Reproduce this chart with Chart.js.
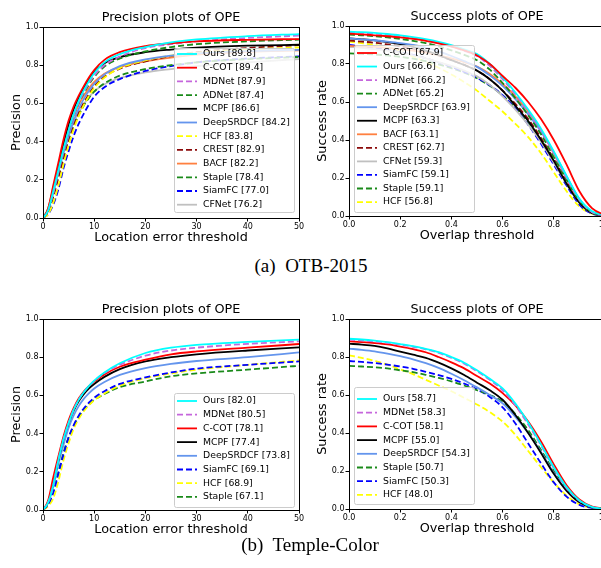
<!DOCTYPE html>
<html>
<head>
<meta charset="utf-8">
<script src="https://cdn.jsdelivr.net/npm/chart.js@4.4.1/dist/chart.umd.min.js"></script>
<style>
  html, body { margin: 0; padding: 0; background: #fff; width: 601px; height: 568px; overflow: hidden; }
  canvas { position: absolute; }
  .cap { position: absolute; font-family: "Liberation Serif", serif; font-size: 19px; color: #000; white-space: pre; transform: translateX(-50%); }
</style>
</head>
<body>
<canvas id="otbPrec" width="342" height="250" style="left:0;top:0"></canvas>
<canvas id="otbSucc" width="354" height="250" style="left:300px;top:0"></canvas>
<canvas id="tcPrec" width="342" height="250" style="left:0;top:292px"></canvas>
<canvas id="tcSucc" width="354" height="250" style="left:300px;top:292px"></canvas>
<div class="cap" style="left:311px;top:255px">(a)  OTB-2015</div>
<div class="cap" style="left:310px;top:534px">(b)  Temple-Color</div>
<script>
// thresholds
const precX = [0, 1, 2, 3, 4, 5, 6, 7, 8, 9, 10, 12, 15, 20, 25, 30, 40, 50];
const succX = [0, 0.05, 0.1, 0.15, 0.2, 0.25, 0.3, 0.35, 0.4, 0.45, 0.5, 0.55, 0.6, 0.65, 0.7, 0.75, 0.8, 0.85, 0.9, 0.95, 1];

// OTB-2015 precision
const otbPrecNames  = ['Ours', 'C-COT', 'MDNet', 'ADNet', 'MCPF', 'DeepSRDCF', 'HCF', 'CREST', 'BACF', 'Staple', 'SiamFC', 'CFNet'];
const otbPrecScores = ['89.8', '89.4', '87.9', '87.4', '86.6', '84.2', '83.8', '82.9', '82.2', '78.4', '77.0', '76.2'];
const otbPrecOurs      = [0, .04, .14, .25, .36, .46, .545, .615, .67, .718, .758, .815, .858, .895, .92, .935, .952, .963];
const otbPrecCCOT      = [0, .05, .17, .29, .41, .51, .585, .642, .692, .737, .775, .828, .868, .90, .915, .925, .933, .937];
const otbPrecMDNet     = [0, .04, .13, .24, .35, .45, .535, .605, .66, .707, .745, .80, .845, .89, .91, .925, .943, .955];
const otbPrecADNet     = [0, .04, .13, .24, .35, .45, .535, .603, .655, .70, .738, .793, .835, .872, .895, .91, .925, .934];
const otbPrecMCPF      = [0, .04, .15, .27, .39, .49, .57, .632, .682, .727, .765, .81, .842, .868, .882, .892, .902, .907];
const otbPrecDeepSRDCF = [0, .04, .13, .24, .34, .43, .51, .573, .625, .667, .702, .752, .795, .83, .85, .862, .874, .88];
const otbPrecHCF       = [0, .02, .08, .17, .28, .38, .465, .535, .592, .64, .68, .735, .785, .825, .85, .865, .882, .893];
const otbPrecCREST     = [0, .03, .11, .21, .31, .41, .49, .553, .605, .65, .69, .74, .782, .82, .848, .868, .89, .905];
const otbPrecBACF      = [0, .05, .16, .27, .37, .46, .535, .595, .642, .68, .712, .755, .79, .82, .84, .855, .87, .878];
const otbPrecStaple    = [0, .04, .12, .22, .32, .41, .48, .54, .59, .63, .662, .705, .745, .78, .80, .815, .832, .843];
const otbPrecSiamFC    = [0, .02, .07, .15, .26, .35, .43, .495, .548, .595, .635, .685, .727, .77, .795, .815, .835, .846];
const otbPrecCFNet     = [0, .05, .15, .26, .35, .43, .50, .553, .597, .633, .663, .70, .733, .762, .78, .795, .815, .832];

// OTB-2015 success
const otbSuccNames  = ['C-COT', 'Ours', 'MDNet', 'ADNet', 'DeepSRDCF', 'MCPF', 'BACF', 'CREST', 'CFNet', 'SiamFC', 'Staple', 'HCF'];
const otbSuccScores = ['67.9', '66.6', '66.2', '65.2', '63.9', '63.3', '63.1', '62.7', '59.3', '59.1', '59.1', '56.8'];
const otbSuccCCOT      = [.96, .956, .951, .946, .94, .932, .922, .908, .892, .872, .845, .80, .737, .675, .60, .51, .40, .27, .13, .04, .005];
const otbSuccOurs      = [.97, .968, .964, .958, .951, .942, .931, .917, .899, .877, .852, .80, .73, .65, .56, .46, .34, .21, .09, .025, .003];
const otbSuccMDNet     = [.967, .964, .96, .954, .947, .938, .927, .912, .893, .869, .842, .79, .72, .64, .55, .45, .33, .20, .085, .02, .003];
const otbSuccADNet     = [.955, .951, .946, .94, .932, .922, .91, .893, .872, .848, .82, .77, .70, .62, .53, .43, .31, .19, .08, .02, .003];
const otbSuccDeepSRDCF = [.935, .93, .925, .918, .91, .90, .886, .866, .842, .815, .785, .74, .685, .615, .535, .445, .335, .21, .09, .02, .003];
const otbSuccMCPF      = [.935, .93, .924, .915, .904, .89, .87, .846, .82, .795, .765, .72, .66, .58, .50, .40, .29, .17, .07, .015, .002];
const otbSuccBACF      = [.895, .893, .89, .885, .878, .87, .86, .845, .83, .81, .787, .748, .695, .63, .55, .45, .33, .20, .08, .02, .003];
const otbSuccCREST     = [.923, .918, .912, .903, .893, .88, .865, .845, .82, .795, .765, .72, .66, .59, .51, .41, .30, .18, .075, .018, .003];
const otbSuccCFNet     = [.89, .885, .878, .87, .86, .845, .83, .81, .79, .765, .735, .69, .63, .56, .48, .39, .28, .17, .07, .015, .002];
const otbSuccSiamFC    = [.90, .893, .885, .874, .862, .848, .83, .808, .785, .758, .728, .688, .635, .565, .48, .38, .27, .16, .06, .012, .002];
const otbSuccStaple    = [.856, .853, .85, .845, .838, .828, .815, .798, .778, .755, .725, .685, .635, .57, .49, .40, .29, .17, .07, .015, .002];
const otbSuccHCF       = [.918, .91, .90, .885, .865, .84, .81, .78, .745, .705, .66, .605, .55, .485, .415, .33, .23, .13, .05, .012, .002];

// Temple-Color precision
const tcPrecNames  = ['Ours', 'MDNet', 'C-COT', 'MCPF', 'DeepSRDCF', 'SiamFC', 'HCF', 'Staple'];
const tcPrecScores = ['82.0', '80.5', '78.1', '77.4', '73.8', '69.1', '68.9', '67.1'];
const tcPrecOurs      = [0, .04, .13, .26, .37, .455, .525, .578, .618, .65, .677, .72, .768, .822, .85, .865, .88, .892];
const tcPrecMDNet     = [0, .04, .13, .26, .37, .455, .525, .578, .618, .65, .676, .717, .76, .808, .835, .85, .87, .883];
const tcPrecCCOT      = [0, .05, .17, .28, .385, .47, .535, .585, .622, .65, .673, .71, .75, .787, .815, .83, .85, .869];
const tcPrecMCPF      = [0, .04, .14, .26, .37, .455, .52, .57, .608, .637, .66, .697, .738, .778, .80, .815, .835, .851];
const tcPrecDeepSRDCF = [0, .04, .12, .24, .34, .43, .495, .545, .583, .612, .636, .67, .707, .743, .765, .78, .80, .825];
const tcPrecSiamFC    = [0, .03, .09, .19, .29, .38, .445, .495, .533, .563, .588, .622, .66, .694, .72, .74, .76, .778];
const tcPrecHCF       = [0, .02, .06, .15, .26, .35, .425, .478, .518, .55, .575, .61, .652, .69, .715, .735, .76, .783];
const tcPrecStaple    = [0, .03, .10, .20, .30, .38, .44, .488, .525, .553, .576, .607, .643, .673, .70, .715, .735, .755];

// Temple-Color success
const tcSuccNames  = ['Ours', 'MDNet', 'C-COT', 'MCPF', 'DeepSRDCF', 'Staple', 'SiamFC', 'HCF'];
const tcSuccScores = ['58.7', '58.3', '58.1', '55.0', '54.3', '50.7', '50.3', '48.0'];
const tcSuccOurs      = [.896, .892, .886, .878, .868, .857, .843, .826, .80, .77, .73, .685, .635, .555, .455, .34, .22, .115, .045, .01, .002];
const tcSuccMDNet     = [.891, .887, .882, .875, .865, .854, .84, .822, .795, .765, .725, .68, .625, .545, .445, .335, .215, .11, .043, .01, .002];
const tcSuccCCOT      = [.882, .878, .873, .866, .855, .842, .825, .80, .772, .74, .70, .66, .61, .545, .46, .355, .235, .125, .05, .012, .002];
const tcSuccMCPF      = [.87, .865, .858, .845, .828, .812, .795, .77, .74, .705, .665, .625, .575, .495, .40, .295, .185, .095, .035, .008, .002];
const tcSuccDeepSRDCF = [.844, .838, .83, .818, .804, .788, .768, .743, .712, .678, .64, .60, .556, .485, .40, .30, .19, .10, .037, .008, .002];
const tcSuccStaple    = [.753, .75, .746, .74, .73, .72, .706, .69, .672, .65, .625, .60, .565, .50, .415, .31, .20, .105, .04, .009, .002];
const tcSuccSiamFC    = [.779, .774, .768, .76, .75, .738, .722, .705, .685, .66, .63, .59, .535, .45, .345, .24, .14, .065, .022, .005, .001];
const tcSuccHCF       = [.809, .795, .78, .76, .735, .71, .68, .65, .62, .585, .55, .51, .46, .39, .305, .22, .14, .07, .025, .006, .001];

const trackerStyle = {
  'Ours':      { color: '#00ffff', dash: [] },
  'C-COT':     { color: '#ff0000', dash: [] },
  'MDNet':     { color: '#c566dc', dash: [6, 3] },
  'ADNet':     { color: '#1a8a1a', dash: [6, 3] },
  'MCPF':      { color: '#000000', dash: [] },
  'DeepSRDCF': { color: '#6495ed', dash: [] },
  'HCF':       { color: '#ffff00', dash: [6, 3] },
  'CREST':     { color: '#8b0a0a', dash: [6, 3] },
  'BACF':      { color: '#ff8040', dash: [] },
  'Staple':    { color: '#1a8a1a', dash: [6, 3] },
  'SiamFC':    { color: '#0000ff', dash: [6, 3] },
  'CFNet':     { color: '#c0c0c0', dash: [] }
};

const FONT = 'DejaVu Sans';

// spines, title over the plot box, matplotlib-like legend
const frameLegend = {
  id: 'frameLegend',
  afterDatasetsDraw(chart, args, opts) {
    const { ctx, chartArea: a } = chart;
    ctx.save();
    ctx.strokeStyle = '#000';
    ctx.lineWidth = 1;
    ctx.strokeRect(Math.round(a.left) + 0.5, Math.round(a.top) + 0.5, Math.round(a.right - a.left), Math.round(a.bottom - a.top));

    ctx.fillStyle = '#000';
    ctx.font = `12.8px "${FONT}"`;
    ctx.textAlign = 'center';
    ctx.textBaseline = 'middle';
    ctx.fillText(opts.title, (a.left + a.right) / 2, a.top - 9.5);

    const b = opts.box;
    ctx.fillStyle = 'rgba(255,255,255,0.8)';
    ctx.strokeStyle = '#cccccc';
    ctx.beginPath();
    ctx.roundRect(b.x + 0.5, b.y + 0.5, b.w, b.h, 2);
    ctx.fill();
    ctx.stroke();
    ctx.font = `9.3px "${FONT}"`;
    ctx.textAlign = 'left';
    chart.data.datasets.forEach((ds, i) => {
      const y = b.first + i * b.step;
      ctx.strokeStyle = ds.borderColor;
      ctx.lineWidth = ds.borderWidth;
      ctx.setLineDash(ds.borderDash);
      ctx.beginPath();
      ctx.moveTo(b.x + 3, y);
      ctx.lineTo(b.x + 23, y);
      ctx.stroke();
      ctx.setLineDash([]);
      ctx.fillStyle = '#000';
      ctx.fillText(ds.label, b.x + 29, y);
    });
    ctx.restore();
  }
};

function makeChart(id, o) {
  const datasets = o.names.map((name, i) => ({
    label: `${name} [${o.scores[i]}]`,
    data: o.xs.map((x, j) => ({ x, y: o.values[i][j] })),
    borderColor: trackerStyle[name].color,
    borderDash: trackerStyle[name].dash,
    borderWidth: 1.8,
    pointRadius: 0,
    fill: false,
    cubicInterpolationMode: 'monotone'
  }));
  const tickFont = { family: FONT, size: 8 };
  const labelFont = { family: FONT, size: 12.8 };
  const grid = { display: true, drawOnChartArea: false, drawTicks: true, tickLength: 3.5, color: '#000', lineWidth: 1 };
  return new Chart(document.getElementById(id), {
    type: 'line',
    data: { datasets },
    plugins: [frameLegend],
    options: {
      responsive: false,
      devicePixelRatio: 1,
      animation: false,
      layout: { padding: { left: 0, top: o.m.top, right: o.m.right, bottom: 0 } },
      plugins: {
        legend: { display: false },
        tooltip: { enabled: false },
        title: { display: false },
        frameLegend: { box: o.legend, title: o.title }
      },
      scales: {
        x: {
          type: 'linear', min: 0, max: o.xMax,
          grid, border: { display: false },
          ticks: { stepSize: o.xStep, color: '#000', font: tickFont, padding: 1, maxRotation: 0, autoSkip: false,
                   callback: v => o.xMax === 1 ? v.toFixed(1) : String(v) },
          title: { display: true, text: o.xTitle, color: '#000', font: labelFont, padding: { top: 0, bottom: o.m.xTitle } },
          afterFit: s => { s.height = o.m.bottom; }
        },
        y: {
          min: 0, max: 1,
          grid, border: { display: false },
          ticks: { stepSize: 0.2, color: '#000', font: tickFont, padding: 1, callback: v => v.toFixed(1) },
          title: { display: true, text: o.yTitle, color: '#000', font: labelFont, padding: { top: o.m.yTitle, bottom: 0 } },
          afterFit: s => { s.width = o.m.left; }
        }
      }
    }
  });
}

makeChart('otbPrec', {
  title: 'Precision plots of OPE', xTitle: 'Location error threshold', yTitle: 'Precision',
  xs: precX, xMax: 50, xStep: 10,
  names: otbPrecNames, scores: otbPrecScores,
  values: [otbPrecOurs, otbPrecCCOT, otbPrecMDNet, otbPrecADNet, otbPrecMCPF, otbPrecDeepSRDCF,
           otbPrecHCF, otbPrecCREST, otbPrecBACF, otbPrecStaple, otbPrecSiamFC, otbPrecCFNet],
  m: { left: 43, right: 43, top: 27, bottom: 32, xTitle: 4.3, yTitle: 9.3 },
  legend: { x: 174, y: 48, w: 120, h: 164, first: 54, step: 13.7 }
});

makeChart('otbSucc', {
  title: 'Success plots of OPE', xTitle: 'Overlap threshold', yTitle: 'Success rate',
  xs: succX, xMax: 1, xStep: 0.2,
  names: otbSuccNames, scores: otbSuccScores,
  values: [otbSuccCCOT, otbSuccOurs, otbSuccMDNet, otbSuccADNet, otbSuccDeepSRDCF, otbSuccMCPF,
           otbSuccBACF, otbSuccCREST, otbSuccCFNet, otbSuccSiamFC, otbSuccStaple, otbSuccHCF],
  m: { left: 49, right: 49, top: 26, bottom: 34, xTitle: 6.3, yTitle: 15.3 },
  legend: { x: 54, y: 45, w: 120, h: 167, first: 53, step: 13.55 }
});

makeChart('tcPrec', {
  title: 'Precision plots of OPE', xTitle: 'Location error threshold', yTitle: 'Precision',
  xs: precX, xMax: 50, xStep: 10,
  names: tcPrecNames, scores: tcPrecScores,
  values: [tcPrecOurs, tcPrecMDNet, tcPrecCCOT, tcPrecMCPF, tcPrecDeepSRDCF, tcPrecSiamFC, tcPrecHCF, tcPrecStaple],
  m: { left: 43, right: 43, top: 27, bottom: 32, xTitle: 4.3, yTitle: 9.3 },
  legend: { x: 174, y: 101, w: 120, h: 114, first: 109, step: 13.7 }
});

makeChart('tcSucc', {
  title: 'Success plots of OPE', xTitle: 'Overlap threshold', yTitle: 'Success rate',
  xs: succX, xMax: 1, xStep: 0.2,
  names: tcSuccNames, scores: tcSuccScores,
  values: [tcSuccOurs, tcSuccMDNet, tcSuccCCOT, tcSuccMCPF, tcSuccDeepSRDCF, tcSuccStaple, tcSuccSiamFC, tcSuccHCF],
  m: { left: 49, right: 49, top: 27, bottom: 33, xTitle: 5.3, yTitle: 15.3 },
  legend: { x: 54, y: 95, w: 120, h: 117, first: 107, step: 13.7 }
});
</script>
</body>
</html>
